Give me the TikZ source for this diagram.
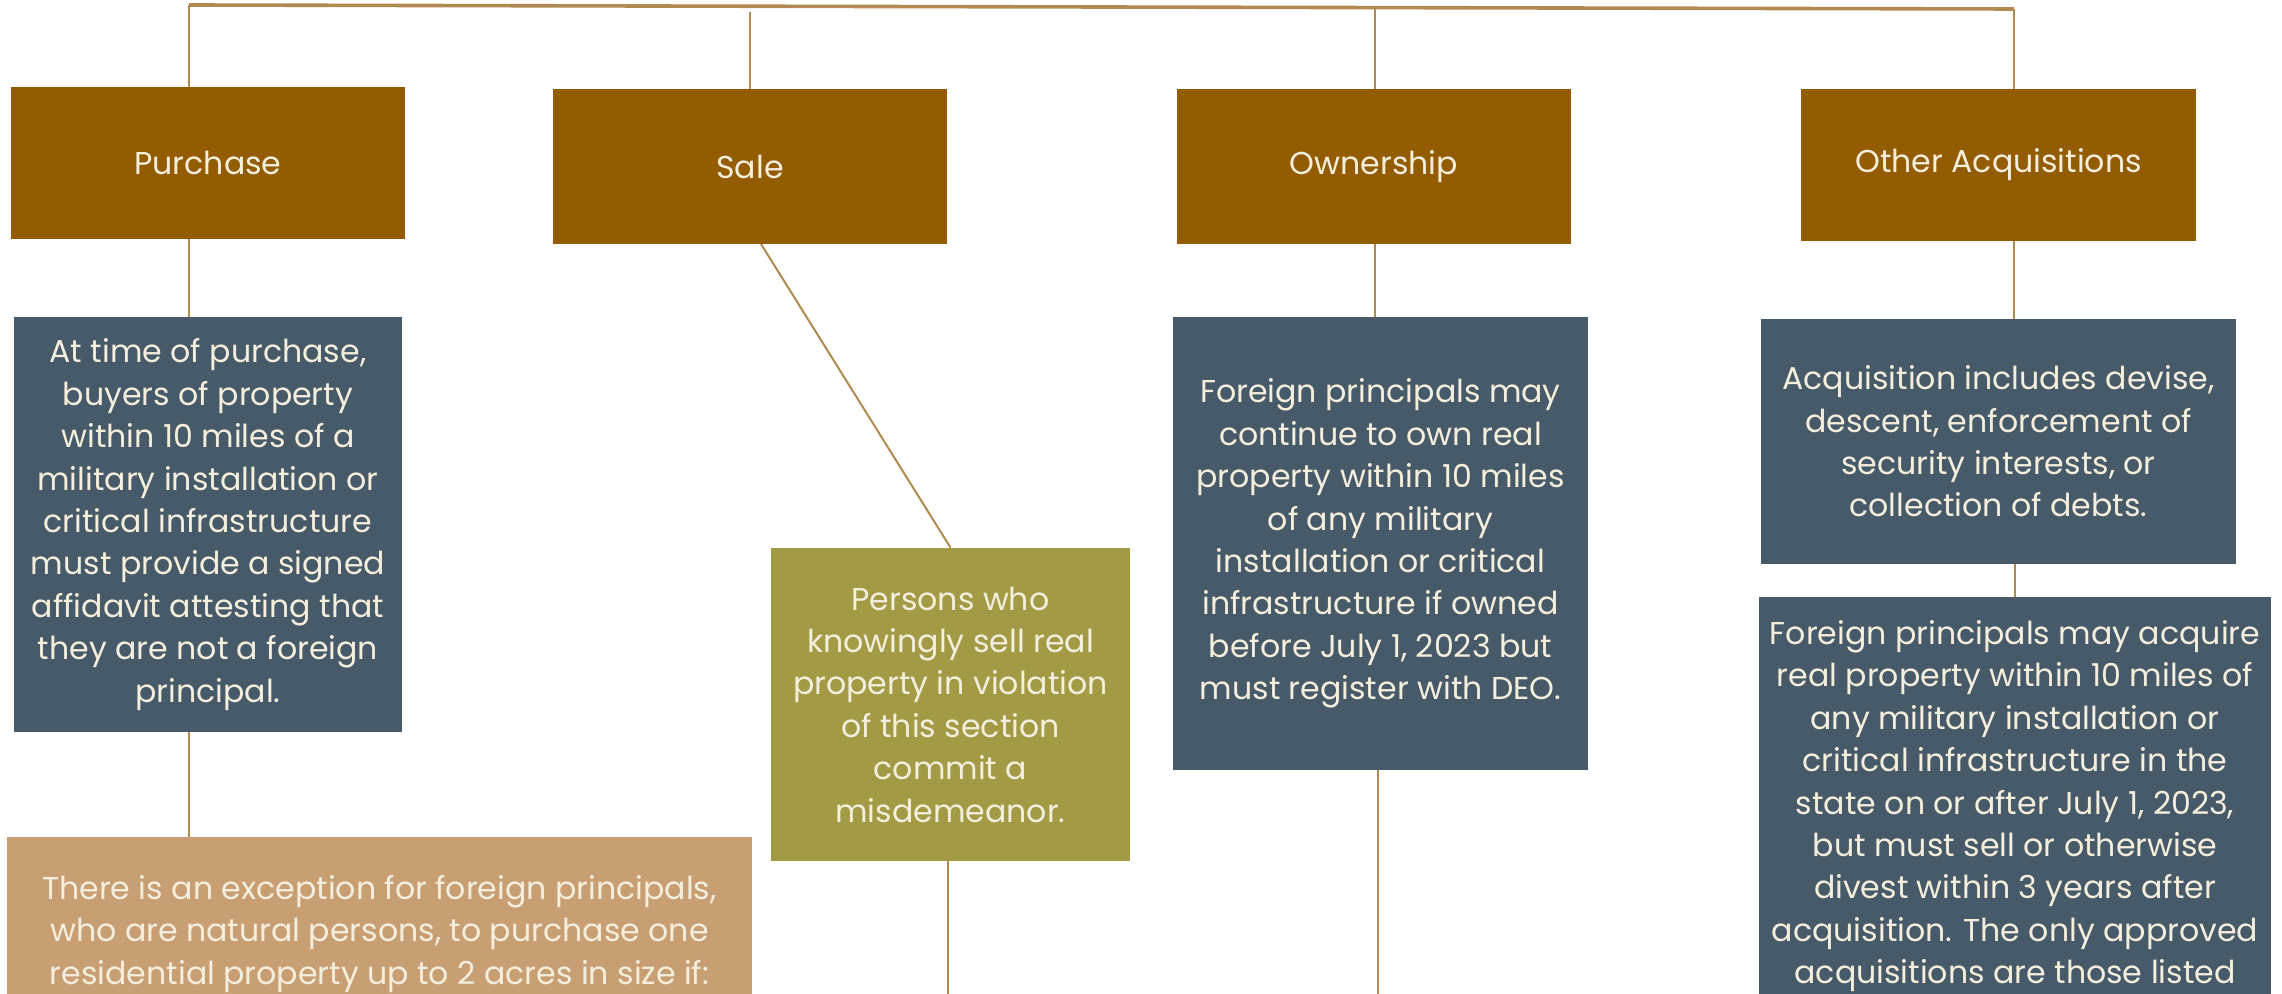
\documentclass[tikz,border=0pt]{standalone}
\usepackage{fontspec}
\setmainfont{Poppins}
\definecolor{hdr}{HTML}{935C00}
\definecolor{slate}{HTML}{465A69}
\definecolor{tan}{HTML}{C89E73}
\definecolor{olive}{HTML}{A29A44}
\definecolor{wire}{HTML}{B08A50}
\definecolor{cream}{HTML}{F4EEDD}
\tikzset{
  box/.style={rectangle, inner sep=0pt, text=cream, align=center,
    font=\fontsize{15.8}{21.2}\selectfont},
  hdrbox/.style={box, fill=hdr},
  slatebox/.style={box, fill=slate},
  tanbox/.style={box, fill=tan},
  olivebox/.style={box, fill=olive},
  txt/.style={inner sep=0pt, text=cream, align=center,
    font=\fontsize{15.8}{21.2}\selectfont},
  wireline/.style={draw=wire, line width=1pt},
}
\begin{document}
\begin{tikzpicture}[x=0.5pt, y=-0.5pt]
\useasboundingbox (0,0) rectangle (2282,994);
\clip (0,0) rectangle (2282,994);
\fill[white] (0,0) rectangle (2282,994);
% header boxes
\node[hdrbox, minimum width=197pt, minimum height=76pt] (pur) at (208,163) {Purchase};
\node[hdrbox, minimum width=197pt, minimum height=77.5pt] (sale) at (750,166.5) {Sale};
\node[hdrbox, minimum width=197pt, minimum height=77.5pt] (own) at (1374,166.5) {Ownership};
\node[hdrbox, minimum width=197.5pt, minimum height=76pt] (oth) at (1998.5,165) {Other Acquisitions};
% description boxes
\node[slatebox, minimum width=194pt, minimum height=207.5pt] (pd) at (208,524.5)
 {At time of purchase,\\buyers of property\\within 10 miles of a\\military installation or\\critical infrastructure\\must provide a signed\\affidavit attesting that\\they are not a foreign\\principal.};
\node[olivebox, minimum width=179.5pt, minimum height=156.5pt] (sd) at (950.5,704.5)
 {Persons who\\knowingly sell real\\property in violation\\of this section\\commit a\\misdemeanor.};
\node[slatebox, minimum width=207.5pt, minimum height=226.5pt] (od) at (1380.5,543.5)
 {Foreign principals may\\continue to own real\\property within 10 miles\\of any military\\installation or critical\\infrastructure if owned\\before July 1, 2023 but\\must register with DEO.};
\node[slatebox, minimum width=237.5pt, minimum height=122.5pt] (ad) at (1998.5,441.5)
 {Acquisition includes devise,\\descent, enforcement of\\security interests, or\\collection of debts.};
\node[slatebox, minimum width=256pt, minimum height=220pt, anchor=north] (ad2) at (2015,597) {};
\node[txt, anchor=north] (ad2t) at (2015,620)
 {Foreign principals may acquire\\real property within 10 miles of\\any military installation or\\critical infrastructure in the\\state on or after July 1, 2023,\\but must sell or otherwise\\divest within 3 years after\\acquisition. The only approved\\acquisitions are those listed};
\node[tanbox, minimum width=372.5pt, minimum height=100pt, anchor=north] (ex) at (379.5,837) {};
\node[txt, anchor=north] (ext) at (379.5,875)
 {There is an exception for foreign principals,\\who are natural persons, to purchase one\\residential property up to 2 acres in size if:};
% connector coordinates
\coordinate (t1) at (189,5);
\coordinate (t2) at (750,12);
\coordinate (t3) at (1375,7);
\coordinate (t4) at (2014,9);
\coordinate (tR) at (2014,9);
\coordinate (sEnd) at (948,994);
\coordinate (oEnd) at (1378,994);
% top bar
\draw[wire, line width=1.8pt] (t1) -- (tR);
% purchase branch
\draw[wireline] (t1) -- (t1 |- pur.north);
\draw[wireline] (t1 |- pur.south) -- (t1 |- pd.north);
\draw[wireline] (t1 |- pd.south) -- (t1 |- ex.north);
% sale branch
\draw[wireline] (t2) -- (t2 |- sale.north);
\draw[wireline] (761,244) -- (sd.north);
\draw[wireline] (sd.south -| sEnd) -- (sEnd);
% ownership branch
\draw[wireline] (t3) -- (t3 |- own.north);
\draw[wireline] (t3 |- own.south) -- (t3 |- od.north);
\draw[wireline] (od.south -| oEnd) -- (oEnd);
% other acquisitions branch
\draw[wireline] (t4) -- (t4 |- oth.north);
\draw[wireline] (t4 |- oth.south) -- (t4 |- ad.north);
\draw[wireline] (ad.south -| ad2) -- (ad2.north);
\end{tikzpicture}
\end{document}
